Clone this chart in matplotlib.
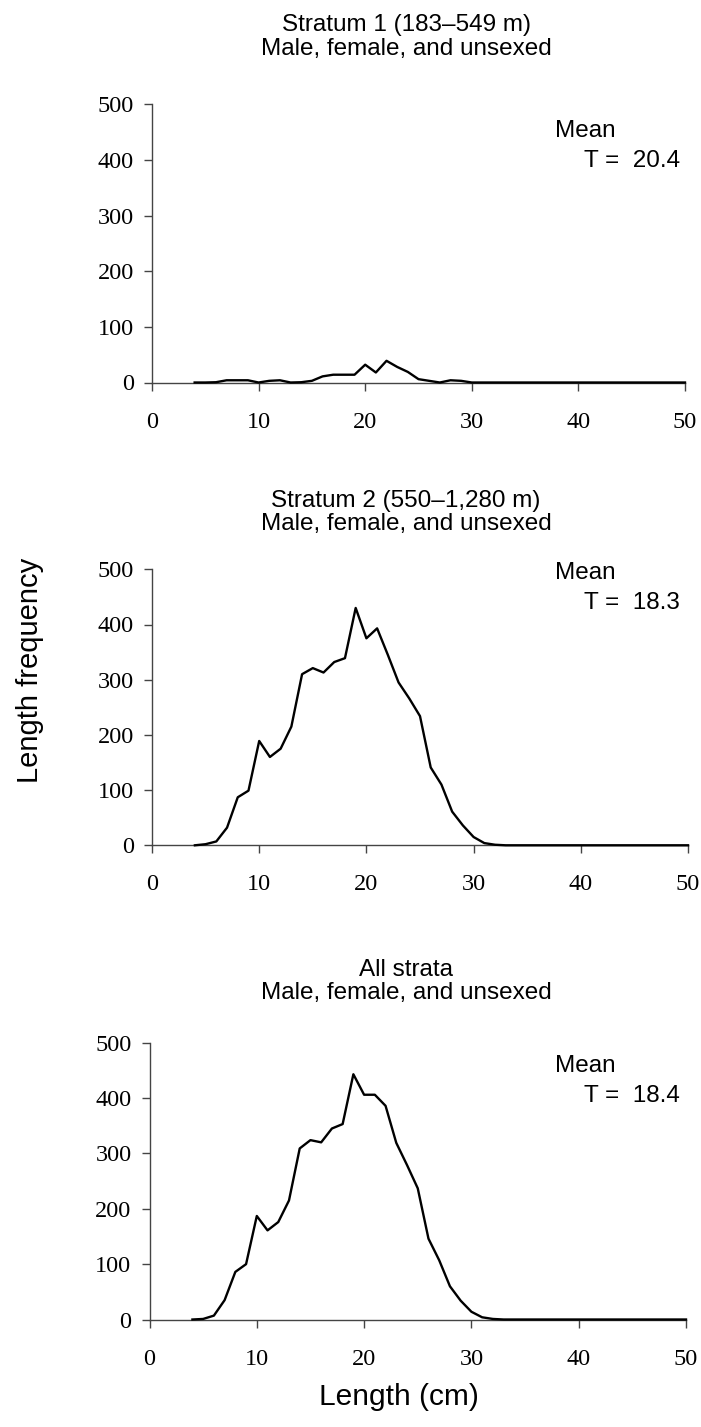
import matplotlib
matplotlib.use("Agg")
import matplotlib.pyplot as plt
import numpy as np

W, H = 701, 1427

lengths = list(range(4, 51))

stratum1 = [0, 0, 0.5, 4, 4, 4, 0, 3, 4, 0, 0.5, 3, 11, 14, 14, 14, 32, 18, 39, 28, 19, 6, 3, 0, 4, 3, 0] + [0] * 20
stratum2 = [0, 2, 7, 32, 87, 99, 189, 160, 175, 215, 310, 321, 313, 332, 339, 430, 375, 393, 345, 295, 266, 234, 141, 110, 61, 36, 15, 4, 1] + [0] * 18
all_strata = [0, 1, 7, 35, 86, 100, 187, 161, 176, 215, 309, 324, 320, 345, 353, 443, 406, 406, 386, 319, 279, 237, 146, 107, 60, 34, 14, 4, 1] + [0] * 18

series = [stratum1, stratum2, all_strata]
title1 = ["Stratum 1 (183\u2013549 m)", "Stratum 2 (550\u20131,280 m)", "All strata"]
title2 = ["Male, female, and unsexed"] * 3
means = ["20.4", "18.3", "18.4"]

x_ticks = [0, 10, 20, 30, 40, 50]
y_ticks = [0, 100, 200, 300, 400, 500]

# axes boxes in pixels: left, right, top, bottom
boxes = [(152, 685, 104.3, 382.5), (152, 688, 569.3, 845.3), (149.5, 686, 1042.7, 1319.5)]
title_base = [(31, 55), (507, 530), (976, 999)]
mean_base = [(137, 167), (579, 609), (1072, 1102)]

fig = plt.figure(figsize=(W / 100, H / 100), dpi=100)
fig.patch.set_facecolor("white")

def fx(x):
    return x / W

def fy(y):
    return 1 - y / H

axis_color = "#444444"
for i in range(3):
    l, r, t, b = boxes[i]
    ax = fig.add_axes([fx(l), fy(b), (r - l) / W, (b - t) / H])
    ax.plot(lengths, series[i], color="black", lw=1.7, clip_on=False, zorder=3)
    ax.set_xlim(0, 50)
    ax.set_ylim(0, 500)
    ax.set_xticks(x_ticks)
    ax.set_yticks(y_ticks)
    for s in ["top", "right"]:
        ax.spines[s].set_visible(False)
    for s in ["left", "bottom"]:
        ax.spines[s].set_color(axis_color)
        ax.spines[s].set_linewidth(1.0)
    ax.tick_params(axis="both", direction="out", length=6, width=1.0, color=axis_color)
    ax.tick_params(axis="x", pad=15)
    ax.tick_params(axis="y", pad=7)
    for lab in ax.get_xticklabels() + ax.get_yticklabels():
        lab.set_fontfamily("Liberation Serif")
        lab.set_fontsize(17.5)
    tb1, tb2 = title_base[i]
    fig.text(fx(406), fy(tb1), title1[i], ha="center", va="baseline",
             fontsize=17.5, family="Liberation Sans")
    fig.text(fx(406), fy(tb2), title2[i], ha="center", va="baseline",
             fontsize=17.5, family="Liberation Sans")
    mb1, mb2 = mean_base[i]
    fig.text(fx(555), fy(mb1), "Mean", ha="left", va="baseline",
             fontsize=17.5, family="Liberation Sans")
    fig.text(fx(680), fy(mb2), "T =  " + means[i], ha="right", va="baseline",
             fontsize=17.5, family="Liberation Sans")

fig.text(fx(30), fy(670), "Length frequency", rotation=90, ha="center", va="center",
         fontsize=21, family="Liberation Sans")
fig.text(fx(399), fy(1405), "Length (cm)", ha="center", va="baseline",
         fontsize=21.5, family="Liberation Sans")

fig.savefig("out.png", dpi=100, facecolor="white")
